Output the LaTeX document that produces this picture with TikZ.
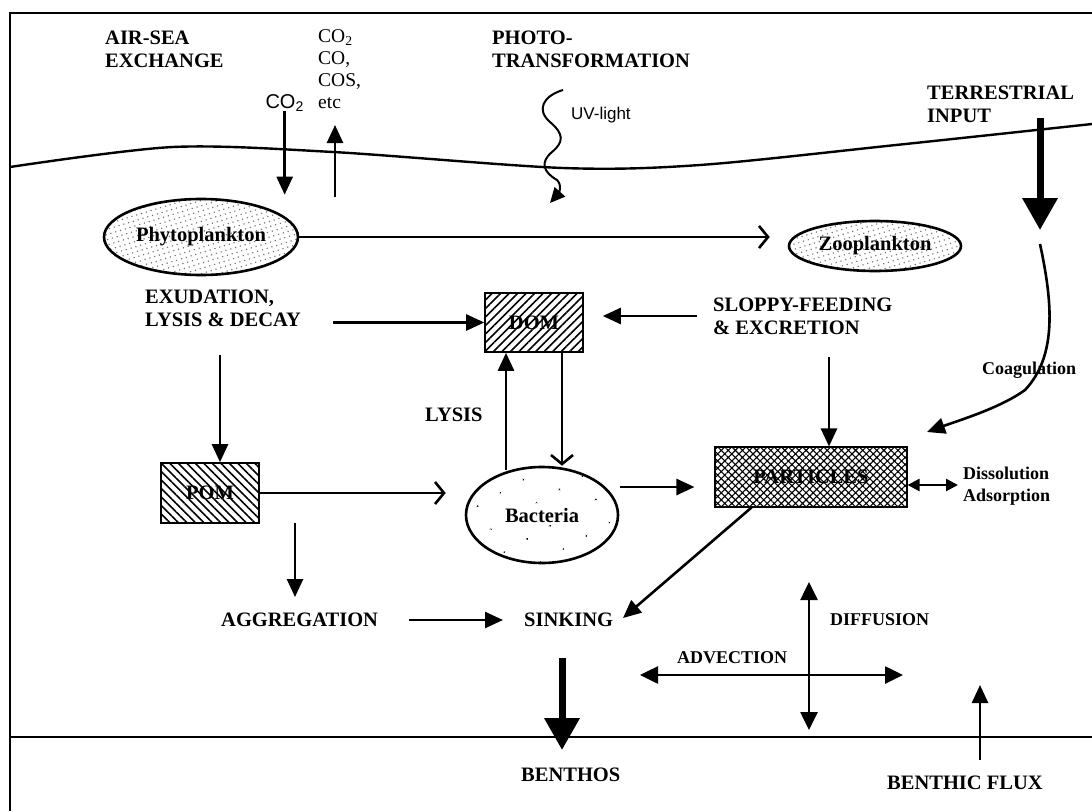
\documentclass[tikz,border=0pt]{standalone}
\usepackage{fontspec}
\setmainfont{Liberation Serif}
\newfontfamily\sansfam{Liberation Sans}
\usetikzlibrary{positioning, calc, arrows.meta, patterns.meta, shapes.geometric}

\newcommand{\capsfont}{\fontsize{20.5}{23}\selectfont\bfseries}
\newcommand{\minorfont}{\fontsize{18}{22}\selectfont\bfseries}
\newcommand{\gasfont}{\fontsize{19.5}{22}\selectfont}

\begin{document}
\begin{tikzpicture}[x=1pt, y=-1pt,
    tag/.style={font=\capsfont, inner sep=0pt, anchor=north west, align=left},
    minortag/.style={font=\minorfont, inner sep=0pt, anchor=north west, align=left},
    flow/.style={line width=2.6pt, -{Triangle[length=18pt, width=16pt]}},
    feed/.style={line width=2.6pt, -{Straight Barb[length=9pt, width=22pt]}},
    heavy/.style={line width=7pt, -{Triangle[length=32pt, width=34pt]}},
    twoway/.style={line width=2.6pt, {Triangle[length=18pt, width=17pt]}-{Triangle[length=18pt, width=17pt]}},
    pool/.style={draw, line width=2.6pt, inner sep=0pt, font=\capsfont},
    cell/.style={draw, ellipse, line width=2.6pt, inner sep=0pt, font=\capsfont}]
    \useasboundingbox (0,0) rectangle (1092,811);

    \draw[line width=2.4pt] (10,811) -- (10,13) -- (1092,13);
    \draw[line width=2.4pt] plot[smooth] coordinates {(10,167) (173,147) (333,152) (563,168) (700,165) (896,145) (1092,124)};
    \draw[line width=2.4pt] (10,737) -- (1092,737);

    \node[tag] (airsea) at (105,31) {AIR-SEA\\EXCHANGE};
    \node[font=\gasfont, inner sep=0pt, anchor=north west, align=left] (gases) at (318,29) {CO\textsubscript{2}\\CO,\\COS,\\etc};
    \node[font=\fontsize{20}{22}\selectfont\sansfam, inner sep=0pt, anchor=base east] (co2) at (304,108) {CO\textsubscript{2}};
    \node[tag] (photo) at (492,31) {PHOTO-\\TRANSFORMATION};
    \node[font=\fontsize{17}{20}\selectfont\sansfam, inner sep=0pt, anchor=west] (uv) at (571,115) {UV-light};
    \node[tag] (terr) at (927,86) {TERRESTRIAL\\INPUT};

    \node[cell, minimum width=194pt, minimum height=76pt, pattern={Dots[distance=5pt, radius=0.8pt, angle=17]}, pattern color=black!55] (phyto) at (201,237) {Phytoplankton};
    \node[cell, minimum width=172pt, minimum height=50pt, pattern={Dots[distance=5pt, radius=0.8pt, angle=17]}, pattern color=black!55] (zoo) at (875,246) {Zooplankton};
    \node[cell, minimum width=152pt, minimum height=96pt, pattern={Dots[distance=27pt, radius=1pt, angle=30]}] (bact) at (542,515) {Bacteria};
    \node[pool, minimum width=98pt, minimum height=59pt, pattern={Lines[angle=45, distance=6pt, line width=1.6pt]}] (dom) at (534,322.5) {DOM};
    \node[pool, minimum width=98pt, minimum height=60pt, pattern={Lines[angle=-45, distance=6pt, line width=1.6pt]}] (pom) at (210,493) {POM};
    \node[pool, minimum width=192pt, minimum height=60pt, pattern={Hatch[angle=45, distance=5pt, line width=1.1pt]}] (particles) at (811,477) {PARTICLES};

    \node[tag] (exud) at (145,290) {EXUDATION,\\LYSIS \& DECAY};
    \node[tag] (sloppy) at (713,298) {SLOPPY-FEEDING\\\& EXCRETION};
    \node[tag, anchor=west] (lysis) at (425,415) {LYSIS};
    \node[minortag, anchor=west] (coag) at (982,370) {Coagulation};
    \node[minortag] (dissol) at (963,467) {Dissolution\\Adsorption};
    \node[tag, anchor=west] (aggr) at (221,620) {AGGREGATION};
    \node[tag, anchor=west] (sink) at (524,620) {SINKING};
    \node[minortag, anchor=west] (adv) at (677,658) {ADVECTION};
    \node[minortag, anchor=west] (diff) at (830,620) {DIFFUSION};
    \node[tag, anchor=west] (benthos) at (521,775) {BENTHOS};
    \node[tag, anchor=west] (bflux) at (887,783) {BENTHIC FLUX};

    \coordinate (outgas) at (335,197);
    \coordinate (outair) at (335,125);
    \coordinate (uvtop) at (563,90);
    \coordinate (uvtip) at (550,203);
    \coordinate (riverin) at (1040,118);
    \coordinate (riverout) at (1040,230);
    \coordinate (coagtop) at (1040,244);
    \coordinate (coagtip) at (927,432);
    \coordinate (exudout) at (333,322.5);
    \coordinate (sloppyout) at (697,316);
    \coordinate (sloppyfoot) at (829,357);
    \coordinate (phytofoot) at (220,355);
    \coordinate (lysisfoot) at (506,470);
    \coordinate (bactout) at (620,487);
    \coordinate (sinktip) at (623,618);
    \coordinate (pomdrop) at (295,523);
    \coordinate (pomtip) at (295,597);
    \coordinate (aggrout) at (409,620);
    \coordinate (sinkin) at (503,620);
    \coordinate (sinkfoot) at (562,658);
    \coordinate (seabed) at (562,750);
    \coordinate (advwest) at (640,675);
    \coordinate (adveast) at (903,675);
    \coordinate (diffup) at (809,582);
    \coordinate (diffdown) at (809,730);
    \coordinate (fluxfoot) at (980,760);
    \coordinate (fluxtip) at (980,685);

    \draw[flow] (co2.south) -- ([yshift=3pt]co2.south |- phyto.north);
    \draw[flow] (outgas) -- (outair);
    \draw[line width=2pt, -{Triangle[length=15pt, width=14pt]}] (uvtop) .. controls (543,96) and (536,110) .. (550,122) .. controls (564,134) and (564,142) .. (552,152) .. controls (540,162) and (543,172) .. (557,180) .. controls (563,186) and (558,194) .. (uvtip);
    \draw[heavy] (riverin) -- (riverout);
    \draw[flow] (coagtop) .. controls (1052,300) and (1058,355) .. (1025,390) .. controls (1000,408) and (960,420) .. (coagtip);

    \draw[feed, shorten >=18pt] (phyto.east) -- (phyto.east -| zoo.west);
    \draw[flow] (exudout) -- (dom.west);
    \draw[flow, shorten >=19pt] (sloppyout) -- (sloppyout -| dom.east);
    \draw[flow] (sloppyfoot) -- (sloppyfoot |- particles.north);
    \draw[flow] (phytofoot) -- (phytofoot |- pom.north);
    \draw[feed] ([xshift=28pt]dom.south) -- ([xshift=28pt]dom.south |- bact.north);
    \draw[flow] (lysisfoot) -- (lysisfoot |- dom.south);
    \draw[feed, shorten >=19pt] (pom.east) -- (pom.east -| bact.west);
    \draw[flow, shorten >=20pt] (bactout) -- (bactout -| particles.west);
    \draw[line width=2.6pt, {Triangle[length=12pt, width=12pt]}-{Triangle[length=12pt, width=12pt]}, shorten >=5pt] ([yshift=-8pt]particles.east) -- ([yshift=-8pt]particles.east -| dissol.west);
    \draw[flow] ([xshift=37pt]particles.south west) -- (sinktip);

    \draw[flow] (pomdrop) -- (pomtip);
    \draw[flow] (aggrout) -- (sinkin);
    \draw[heavy] (sinkfoot) -- (seabed);
    \draw[twoway] (advwest) -- (adveast);
    \draw[twoway] (diffup) -- (diffdown);
    \draw[flow] (fluxfoot) -- (fluxtip);
\end{tikzpicture}
\end{document}
